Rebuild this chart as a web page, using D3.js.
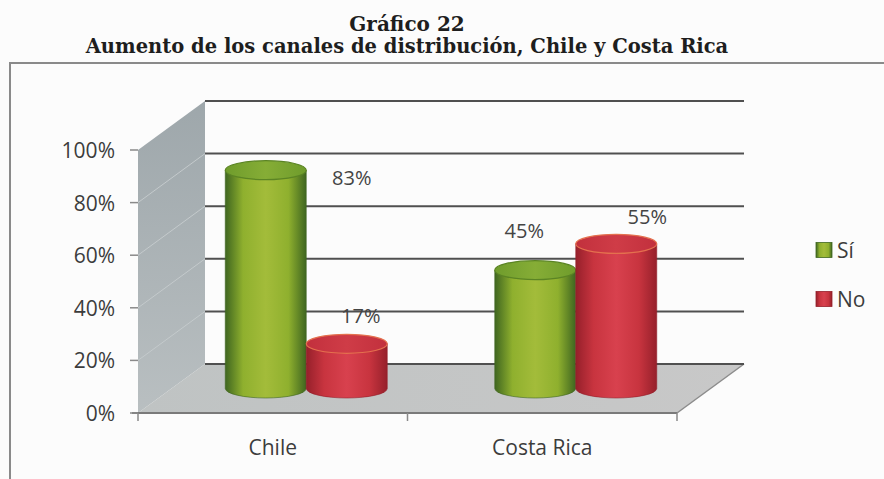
<!DOCTYPE html>
<html>
<head>
<meta charset="utf-8">
<script src="https://cdn.jsdelivr.net/npm/d3@7"></script>
<style>
  html, body { margin: 0; padding: 0; background: #fcfcfc; }
  svg { display: block; }
</style>
</head>
<body>
<svg id="chart" width="884" height="479"></svg>
<script>
// ---- data ----
const categories = ["Chile", "Costa Rica"];
const seriesNames = ["Sí", "No"];
const valuesSi = [83, 45];
const valuesNo = [17, 55];
const yTicks = [0, 20, 40, 60, 80, 100];
const titleLines = ["Gráfico 22", "Aumento de los canales de distribución, Chile y Costa Rica"];

// ---- layout ----
const W = 884, H = 479;
const front = { x0: 138, x1: 677, yBottom: 413, yTop: 150 };
const depth = { dx: 67, dy: -49 };
const seriesColors = {
  "Sí": { edge: "#3f6620", mid: "#a3bc3a", light: "#8fb02e", top: "#6f9c2c", topLight: "#86ad36", rim: "#5b8424" },
  "No": { edge: "#96202b", mid: "#d8414e", light: "#c8343f", top: "#c2303d", topLight: "#cf3c47", rim: "#e4704e" }
};
// label nudges, pixels relative to each cylinder's top centre
const labelNudge = [[[86, 7], [14, -28]], [[-11, -40], [31, -27]]];

const svg = d3.select("#chart");
const defs = svg.append("defs");

svg.append("rect").attr("width", W).attr("height", H).attr("fill", "#fcfcfc");

// title
svg.append("g").selectAll("text").data(titleLines).join("text")
  .attr("x", 407)
  .attr("y", (d, i) => i === 0 ? 31 : 53)
  .attr("text-anchor", "middle")
  .attr("font-family", "'DejaVu Serif', serif")
  .attr("font-weight", "bold")
  .attr("font-size", (d, i) => i === 0 ? 20 : 19.5)
  .attr("fill", "#1e1e1e")
  .text(d => d);

// chart frame
svg.append("rect")
  .attr("x", 10).attr("y", 63).attr("width", 900).attr("height", 440)
  .attr("fill", "none").attr("stroke", "#8a8a8a").attr("stroke-width", 2);

// scales
const y = d3.scaleLinear().domain([0, 100]).range([front.yBottom, front.yTop]);
const xCat = d3.scaleBand().domain(categories).range([front.x0, front.x1]);
const proj = (x, v, z) => [x + depth.dx * z, y(v) + depth.dy * z];

// gradients
function hGrad(id, stops) {
  const g = defs.append("linearGradient").attr("id", id)
    .attr("x1", "0%").attr("x2", "100%").attr("y1", "0%").attr("y2", "0%");
  stops.forEach(([o, c]) => g.append("stop").attr("offset", o).attr("stop-color", c));
}
seriesNames.forEach((s, i) => {
  const c = seriesColors[s];
  hGrad("body" + i, [["0%", c.edge], ["22%", c.light], ["50%", c.mid], ["78%", c.light], ["100%", c.edge]]);
  hGrad("top" + i, [["0%", c.top], ["50%", c.topLight], ["100%", c.top]]);
});
const wallGrad = defs.append("linearGradient").attr("id", "wall")
  .attr("x1", "0%").attr("x2", "0%").attr("y1", "0%").attr("y2", "100%");
wallGrad.append("stop").attr("offset", "0%").attr("stop-color", "#9ea7ab");
wallGrad.append("stop").attr("offset", "100%").attr("stop-color", "#b9bfc1");
const floorGrad = defs.append("linearGradient").attr("id", "floor")
  .attr("x1", "0%").attr("x2", "100%").attr("y1", "0%").attr("y2", "0%");
floorGrad.append("stop").attr("offset", "0%").attr("stop-color", "#bfc3c3");
floorGrad.append("stop").attr("offset", "100%").attr("stop-color", "#c8c8c8");

const line = d3.line();

// left wall
const wallPts = [proj(front.x0, 100, 0), proj(front.x0, 100, 1), proj(front.x0, 0, 1), proj(front.x0, 0, 0)];
svg.append("path").attr("d", line(wallPts) + "Z").attr("fill", "url(#wall)");
svg.append("g").selectAll("line").data(yTicks.slice(1, -1)).join("line")
  .attr("x1", d => proj(front.x0, d, 0)[0]).attr("y1", d => proj(front.x0, d, 0)[1])
  .attr("x2", d => proj(front.x0, d, 1)[0]).attr("y2", d => proj(front.x0, d, 1)[1])
  .attr("stroke", "#c4cacc").attr("stroke-width", 1);

// floor
const floorPts = [proj(front.x0, 0, 0), proj(front.x0, 0, 1), proj(front.x1, 0, 1), proj(front.x1, 0, 0)];
svg.append("path").attr("d", line(floorPts) + "Z").attr("fill", "url(#floor)");
svg.append("line")
  .attr("x1", proj(front.x1, 0, 0)[0]).attr("y1", proj(front.x1, 0, 0)[1])
  .attr("x2", proj(front.x1, 0, 1)[0]).attr("y2", proj(front.x1, 0, 1)[1])
  .attr("stroke", "#8c8c8c").attr("stroke-width", 1.5);

// back-wall gridlines
svg.append("g").selectAll("line").data(yTicks).join("line")
  .attr("x1", d => proj(front.x0, d, 1)[0]).attr("y1", d => proj(front.x0, d, 1)[1])
  .attr("x2", d => proj(front.x1, d, 1)[0]).attr("y2", d => proj(front.x1, d, 1)[1])
  .attr("stroke", "#505050").attr("stroke-width", 2);

// front floor edge and category ticks
svg.append("line")
  .attr("x1", front.x0 - 6).attr("x2", front.x1)
  .attr("y1", y(0)).attr("y2", y(0))
  .attr("stroke", "#7a7a7a").attr("stroke-width", 2);
const catEdges = [front.x0, ...categories.map(c => xCat(c) + xCat.bandwidth())];
svg.append("g").selectAll("line").data(catEdges).join("line")
  .attr("x1", d => d).attr("x2", d => d)
  .attr("y1", y(0)).attr("y2", y(0) + 8)
  .attr("stroke", "#8a8a8a").attr("stroke-width", 1.5);

// value axis ticks and labels
svg.append("g").selectAll("line").data(yTicks).join("line")
  .attr("x1", front.x0 - 8).attr("x2", front.x0)
  .attr("y1", d => y(d)).attr("y2", d => y(d))
  .attr("stroke", "#8a8a8a").attr("stroke-width", 1.5);
svg.append("g").selectAll("text").data(yTicks).join("text")
  .attr("x", 115).attr("y", d => y(d))
  .attr("text-anchor", "end").attr("dominant-baseline", "central")
  .attr("font-family", "'Open Sans', sans-serif").attr("font-size", 21)
  .attr("fill", "#3c3c3c")
  .text(d => d + "%");

// category labels
svg.append("g").selectAll("text").data(categories).join("text")
  .attr("x", d => xCat(d) + xCat.bandwidth() / 2).attr("y", 455)
  .attr("text-anchor", "middle")
  .attr("font-family", "'Open Sans', sans-serif").attr("font-size", 21)
  .attr("fill", "#3c3c3c")
  .text(d => d);

// cylinders, sitting at mid depth
const cylW = 81;
const ry = 9.5;
const xSeries = d3.scaleBand().domain(seriesNames).range([-cylW, cylW]);
const seriesValues = [valuesSi, valuesNo];
const gBars = svg.append("g");
const gLabels = svg.append("g");

categories.forEach((cat, ci) => {
  seriesNames.forEach((s, si) => {
    const v = seriesValues[si][ci];
    const centre = xCat(cat) + xCat.bandwidth() / 2;
    const [cxMid, yBase] = proj(centre, 0, 0.5);
    const cx = cxMid + xSeries(s) + xSeries.bandwidth() / 2;
    const yTopC = proj(centre, v, 0.5)[1];
    const rx = xSeries.bandwidth() / 2;
    const c = seriesColors[s];

    const body = `M${cx - rx},${yTopC} L${cx - rx},${yBase} A${rx},${ry} 0 0 0 ${cx + rx},${yBase} L${cx + rx},${yTopC} Z`;
    gBars.append("path").attr("d", body)
      .attr("fill", `url(#body${si})`)
      .attr("stroke", c.edge).attr("stroke-width", 0.6);
    gBars.append("ellipse")
      .attr("cx", cx).attr("cy", yTopC).attr("rx", rx).attr("ry", ry)
      .attr("fill", `url(#top${si})`)
      .attr("stroke", c.rim).attr("stroke-width", 1.2);

    const [ndx, ndy] = labelNudge[ci][si];
    gLabels.append("text")
      .attr("x", cx + ndx).attr("y", yTopC + ndy)
      .attr("text-anchor", "middle").attr("dominant-baseline", "central")
      .attr("font-family", "'Open Sans', sans-serif").attr("font-size", 20)
      .attr("fill", "#444")
      .text(v + "%");
  });
});

// legend
const legend = svg.append("g").selectAll("g").data(seriesNames).join("g")
  .attr("transform", (d, i) => `translate(816, ${250 + i * 49})`);
legend.append("rect")
  .attr("x", 0).attr("y", -7.5).attr("width", 16).attr("height", 15)
  .attr("fill", (d, i) => `url(#body${i})`)
  .attr("stroke", (d) => seriesColors[d].edge).attr("stroke-width", 0.8);
legend.append("text")
  .attr("x", 21).attr("y", 0).attr("dominant-baseline", "central")
  .attr("font-family", "'Open Sans', sans-serif").attr("font-size", 21)
  .attr("fill", "#3c3c3c")
  .text(d => d);
</script>
</body>
</html>
